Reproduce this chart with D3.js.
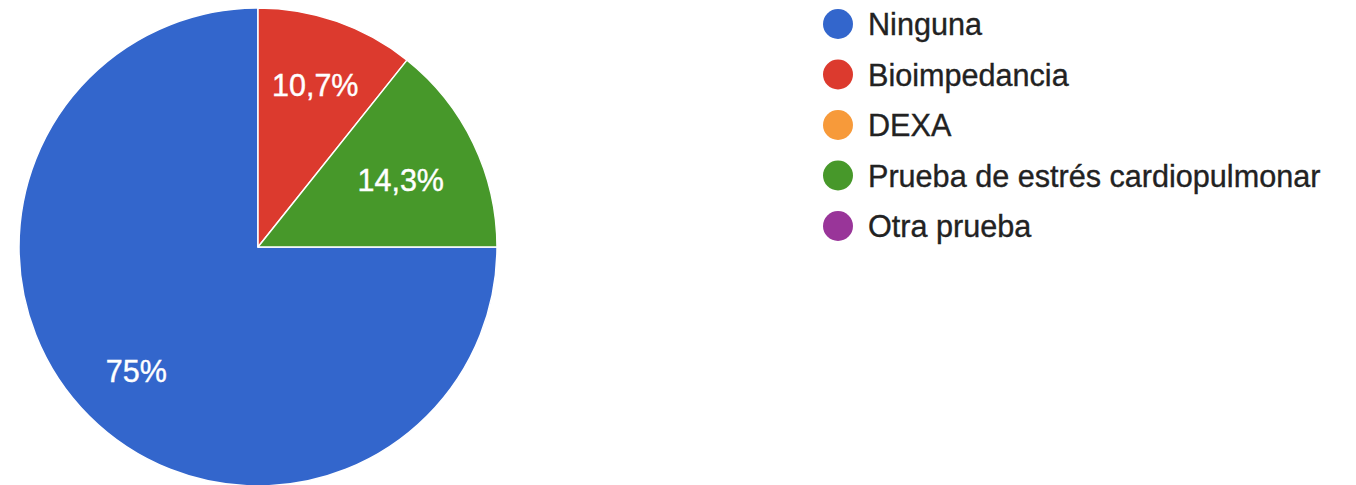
<!DOCTYPE html>
<html><head><meta charset="utf-8">
<script src="https://cdn.jsdelivr.net/npm/d3@7"></script>
<style>
html,body{margin:0;padding:0;background:#fff;}
svg{display:block;font-family:"Liberation Sans",Arial,sans-serif;}
</style></head>
<body>
<svg id="chart" width="1356" height="485"></svg>
<script>
const categories = ["Ninguna", "Bioimpedancia", "DEXA", "Prueba de estrés cardiopulmonar", "Otra prueba"];
const counts = [21, 3, 0, 4, 0];
const labels = ["75%", "10,7%", "", "14,3%", ""];
const colors = ["#3366cc", "#dc3a2e", "#f79a3a", "#47982a", "#993599"];

const svg = d3.select("#chart");
const cx = 258, cy = 247, R = 239;
const g = svg.append("g").attr("transform", `translate(${cx},${cy})`);

const pie = d3.pie().sort(null).value(d => d.v)
  .startAngle(Math.PI / 2).endAngle(Math.PI / 2 + 2 * Math.PI);
const data = categories.map((c, i) => ({ c, v: counts[i], l: labels[i], col: colors[i] }));
const arcs = pie(data);
const arc = d3.arc().innerRadius(0).outerRadius(R);

g.selectAll("path").data(arcs.filter(d => d.data.v > 0)).join("path")
  .attr("d", arc).attr("fill", d => d.data.col)
  .attr("stroke", "#fff").attr("stroke-width", 1.5).attr("stroke-linejoin", "round");

const D = 0.85 * R;
arcs.filter(d => d.data.v > 0 && d.data.l).forEach(d => {
  const t = g.append("text").text(d.data.l)
    .attr("fill", "#fff").attr("font-size", 30.5)
    .attr("stroke", "#fff").attr("stroke-width", 0.4)
    .attr("text-anchor", "middle");
  const bb = t.node().getBBox();
  const w = bb.width, h = 26;
  const th = (d.startAngle + d.endAngle) / 2;
  const ux = Math.sin(th), uy = -Math.cos(th);
  const sx = Math.sign(ux) * w / 2, sy = Math.sign(uy) * h / 2;
  const us = ux * sx + uy * sy;
  const tt = -us + Math.sqrt(us * us - (sx * sx + sy * sy) + D * D);
  const px = tt * ux, py = tt * uy;
  t.attr("x", px).attr("y", py + h / 2);
});

const leg = svg.append("g");
const rows = leg.selectAll("g").data(data).join("g")
  .attr("transform", (d, i) => `translate(838,${24 + i * 50.5})`);
rows.append("circle").attr("r", 15).attr("fill", d => d.col);
rows.append("text").attr("x", 30).attr("y", 11)
  .attr("font-size", 30.6).attr("fill", "#222")
  .attr("stroke", "#222").attr("stroke-width", 0.35)
  .text(d => d.c);
</script>
</body></html>
